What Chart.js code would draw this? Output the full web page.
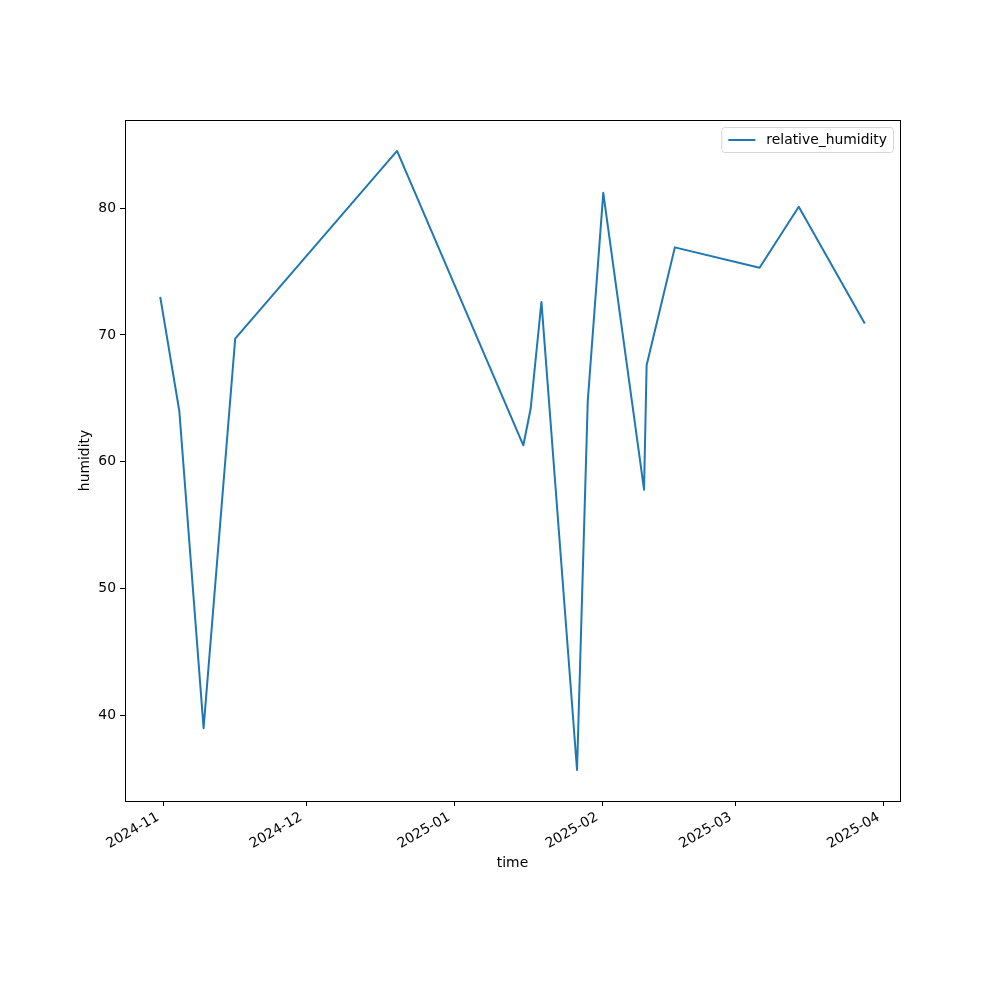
<!DOCTYPE html>
<html>
<head>
<meta charset="utf-8">
<title>relative_humidity</title>
<script src="https://cdn.jsdelivr.net/npm/chart.js@4.4.1/dist/chart.umd.min.js"></script>
<style>
  html, body { margin: 0; padding: 0; background: #ffffff; }
  #wrap { width: 1000px; height: 1000px; }
</style>
</head>
<body>
<div id="wrap"><canvas id="chartCanvas" width="1000" height="1000"></canvas></div>
<script>
// data
const TIMES = ['2024-10-31T10:00', '2024-11-04T10:00', '2024-11-09T12:00', '2024-11-16T03:00',
  '2024-12-20T01:00', '2025-01-15T12:00', '2025-01-17T01:00', '2025-01-19T07:00',
  '2025-01-26T18:00', '2025-01-29T00:00', '2025-02-01T06:00', '2025-02-09T19:00',
  '2025-02-10T08:00', '2025-02-16T06:00', '2025-03-06T00:00', '2025-03-14T05:00',
  '2025-03-28T01:00'];
const HUMIDITY = [73.0, 64.0, 39.0, 69.7, 84.5, 61.3, 64.2, 72.6, 35.7, 64.8, 81.2, 57.8,
  67.6, 76.9, 75.3, 80.1, 70.9];
const X_TICK_LABELS = ['2024-11', '2024-12', '2025-01', '2025-02', '2025-03', '2025-04'];
const Y_TICKS = [40, 50, 60, 70, 80];
const SERIES_LABEL = 'relative_humidity';

const FONT = 'DejaVu Sans';
const FS = 13.9;
const BLUE = '#1f77b4';

const toMs = s => Date.parse(s.length === 7 ? s + '-01T00:00Z' : s + 'Z');
const xs = TIMES.map(toMs);
const points = xs.map((x, i) => ({ x: x, y: HUMIDITY[i] }));

// matplotlib style 5% margins
function padded(arr) {
    const lo = Math.min(...arr), hi = Math.max(...arr);
    const m = (hi - lo) * 0.05;
    return [lo - m, hi + m];
}
const [xMin, xMax] = padded(xs);
const [yMin, yMax] = padded(HUMIDITY);
const xTickVals = X_TICK_LABELS.map(toMs);

function fmtMonth(ms) {
    const d = new Date(ms);
    const mo = String(d.getUTCMonth() + 1).padStart(2, '0');
    return d.getUTCFullYear() + '-' + mo;
}

// box around plot area + legend in the top right corner
const framePlugin = {
    id: 'frame',
    afterDraw(chart) {
        const { ctx, chartArea: a } = chart;
        ctx.save();
        ctx.strokeStyle = '#000000';
        ctx.lineWidth = 1;
        ctx.strokeRect(Math.round(a.left) + 0.5, Math.round(a.top) + 0.5,
            Math.round(a.right - a.left), Math.round(a.bottom - a.top));

        // legend
        ctx.font = FS + 'px "' + FONT + '"';
        const label = chart.data.datasets[0].label;
        const tw = ctx.measureText(label).width;
        const bw = tw + 51, bh = 25;
        const bx = a.right - 7 - bw, by = a.top + 7;
        ctx.beginPath();
        ctx.roundRect(bx + 0.5, by + 0.5, bw, bh, 3);
        ctx.fillStyle = 'rgba(255,255,255,0.8)';
        ctx.fill();
        ctx.strokeStyle = '#d6d6d6';
        ctx.stroke();
        ctx.beginPath();
        ctx.moveTo(bx + 7, by + bh / 2 + 0.5);
        ctx.lineTo(bx + 34, by + bh / 2 + 0.5);
        ctx.strokeStyle = BLUE;
        ctx.lineWidth = 2;
        ctx.stroke();
        ctx.fillStyle = '#000000';
        ctx.textBaseline = 'middle';
        ctx.textAlign = 'left';
        ctx.fillText(label, bx + 45, by + bh / 2 + 1);
        ctx.restore();
    }
};

new Chart(document.getElementById('chartCanvas'), {
    type: 'line',
    data: {
        datasets: [{
            label: SERIES_LABEL,
            data: points,
            borderColor: BLUE,
            backgroundColor: BLUE,
            borderWidth: 2,
            borderJoinStyle: 'round',
            pointRadius: 0,
            tension: 0,
            fill: false
        }]
    },
    options: {
        responsive: false,
        animation: false,
        devicePixelRatio: 1,
        layout: { padding: { top: 120, right: 100, left: 0, bottom: 0 } },
        plugins: {
            legend: { display: false },
            tooltip: { enabled: false }
        },
        scales: {
            x: {
                type: 'linear',
                min: xMin,
                max: xMax,
                afterBuildTicks: s => { s.ticks = xTickVals.map(v => ({ value: v })); },
                afterFit: s => { s.height = 199; },
                grid: { display: true, drawOnChartArea: false, tickLength: 5, color: '#000000', tickWidth: 1 },
                border: { display: true, color: '#000000', width: 1 },
                ticks: {
                    autoSkip: false,
                    minRotation: 30,
                    maxRotation: 30,
                    padding: 3,
                    labelOffset: -5,
                    color: '#000000',
                    font: { family: FONT, size: FS },
                    callback: v => fmtMonth(v)
                },
                title: {
                    display: true,
                    text: 'time',
                    color: '#000000',
                    font: { family: FONT, size: FS },
                    padding: { top: 0, bottom: 128 }
                }
            },
            y: {
                type: 'linear',
                min: yMin,
                max: yMax,
                afterBuildTicks: s => { s.ticks = Y_TICKS.map(v => ({ value: v })); },
                afterFit: s => { s.width = 125; },
                grid: { display: true, drawOnChartArea: false, tickLength: 5, color: '#000000', tickWidth: 1 },
                border: { display: true, color: '#000000', width: 1 },
                ticks: {
                    padding: 4,
                    color: '#000000',
                    font: { family: FONT, size: FS },
                    callback: v => String(v)
                },
                title: {
                    display: true,
                    text: 'humidity',
                    color: '#000000',
                    font: { family: FONT, size: FS },
                    padding: { top: 77, bottom: 0 }
                }
            }
        }
    },
    plugins: [framePlugin]
});
</script>
</body>
</html>
